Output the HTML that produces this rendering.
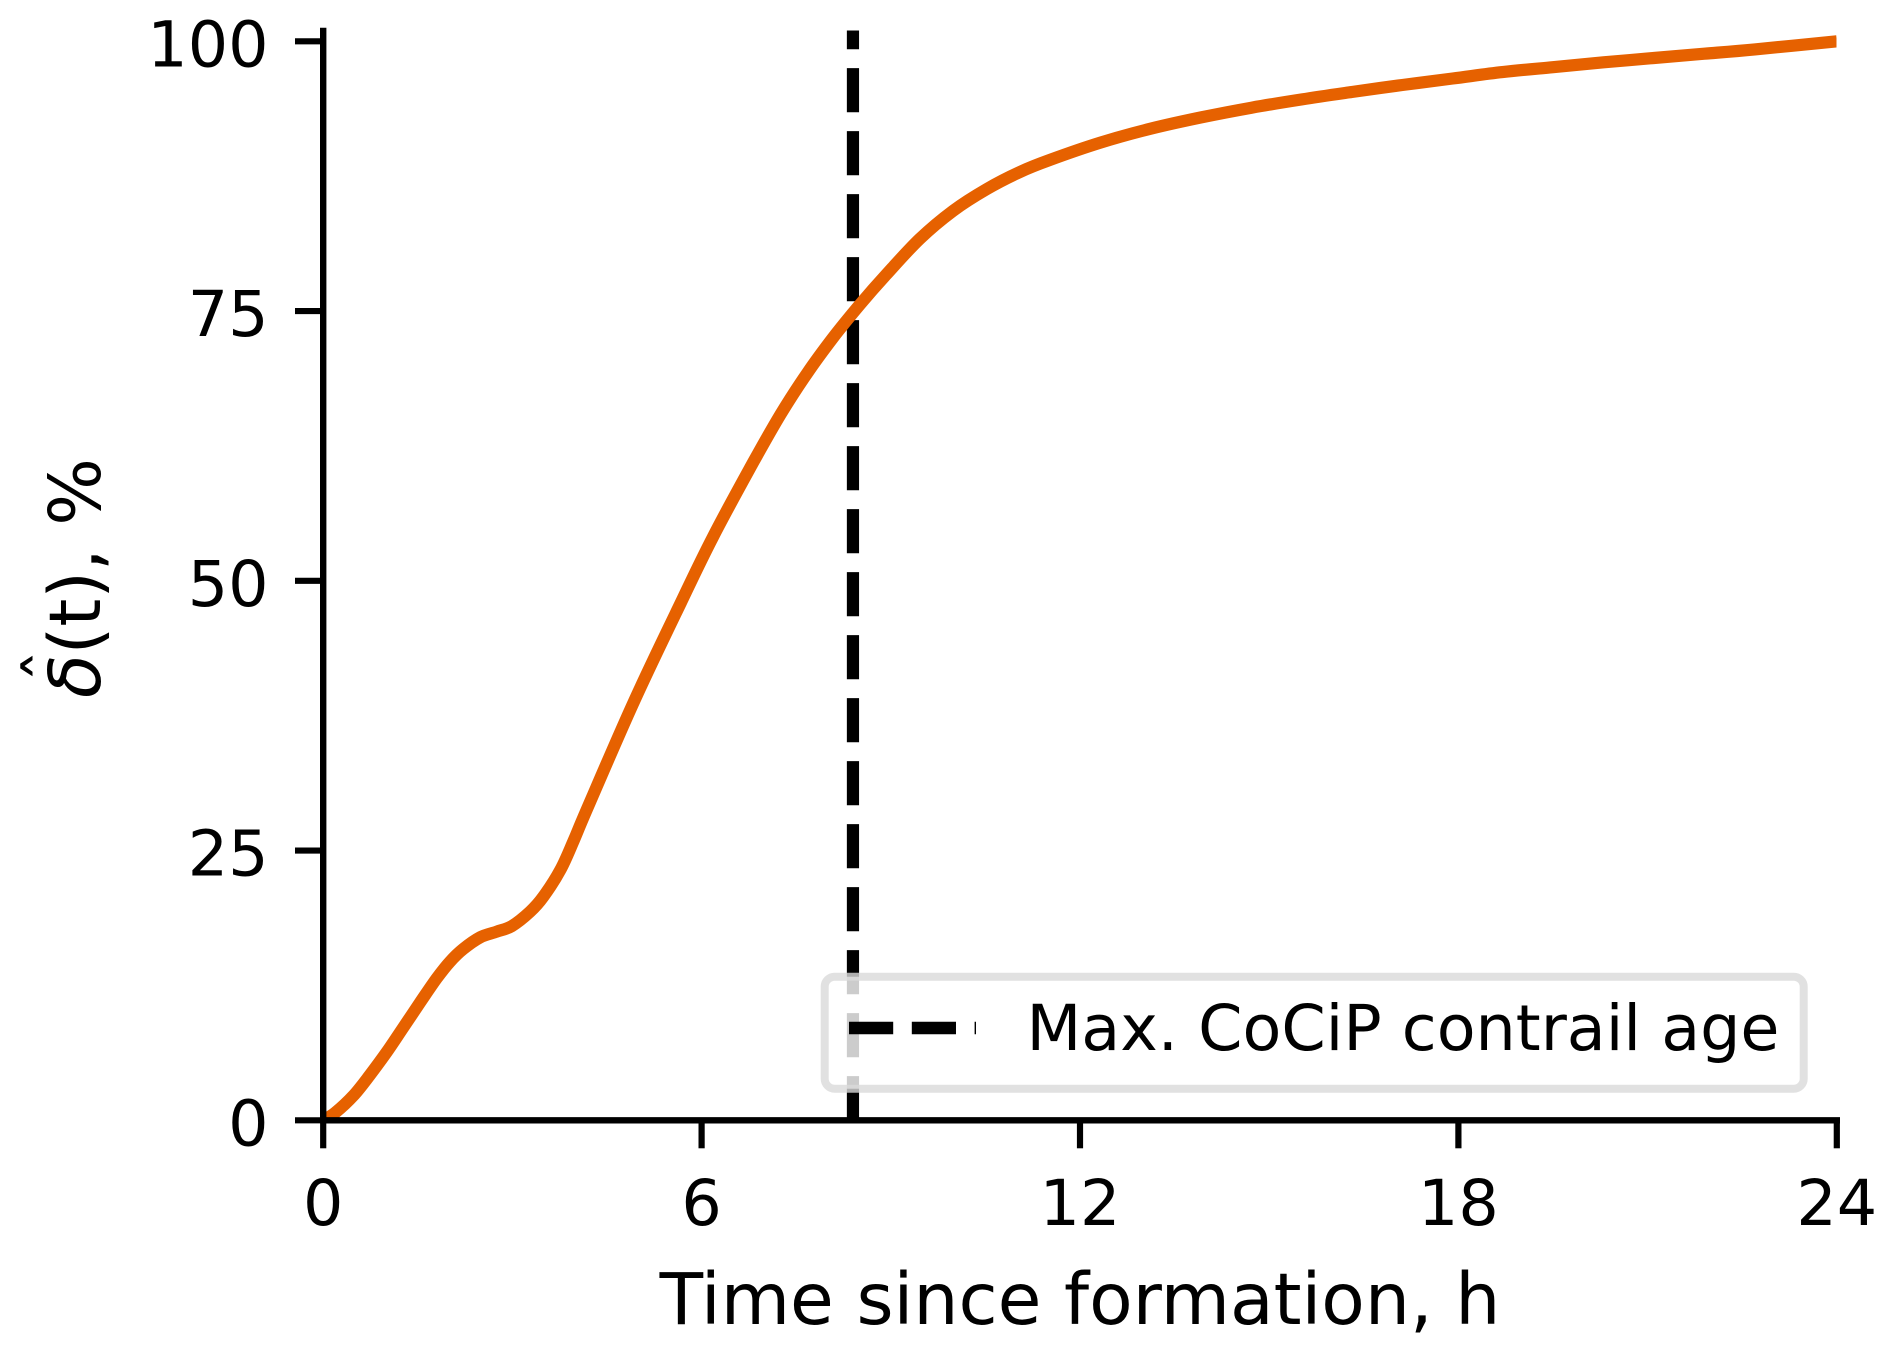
<!DOCTYPE html>
<html lang="en">
<head>
<meta charset="utf-8">
<title>Contrail forcing over time</title>
<style>
html,body{margin:0;padding:0;background:#fff;}
body{width:1892px;height:1351px;overflow:hidden;}
svg{display:block;}
text{font-family:"DejaVu Sans","Liberation Sans",sans-serif;fill:#000;}
.tick{font-size:63.5px;}
.label{font-size:71.2px;}
</style>
</head>
<body>
<svg id="chart" width="1892" height="1351" viewBox="0 0 1892 1351" xmlns="http://www.w3.org/2000/svg">
  <defs><clipPath id="plot-clip"><rect x="323.2" y="0" width="1513.3" height="1120.3"/></clipPath></defs>
  <rect x="0" y="0" width="1892" height="1351" fill="#fff"/>
  <g id="marks"></g>
  <g id="axes"></g>
  <g>
    <rect x="824.7" y="976.7" width="979" height="112" rx="10" ry="10" fill="#fff" fill-opacity="0.8" stroke="#dadada" stroke-opacity="0.8" stroke-width="8"/>
    <line x1="849" y1="1028" x2="976" y2="1028" stroke="#000" stroke-width="12.4" stroke-dasharray="44.2 18.6"/>
    <text class="tick" x="1026.5" y="1050">Max. CoCiP contrail age</text>
  </g>
  <text class="label" x="1080" y="1324" text-anchor="middle">Time since formation, h</text>
  <g>
    <text class="label" transform="translate(100,698) rotate(-90)"><tspan font-style="italic">δ</tspan>(t), %</text>
    <text transform="translate(73,682.5) rotate(-90)" font-size="66">ˆ</text>
  </g>
</svg>
<script>
const timeHours = [0, 0.19, 0.48, 0.74, 1.01, 1.27, 1.54, 1.80, 2.01, 2.22, 2.49, 2.75, 2.99, 3.28, 3.49, 3.76, 3.97, 4.18, 4.92, 5.67, 6.18, 6.82, 7.25, 7.68, 8.08, 8.51, 8.93, 9.46, 9.99, 10.52, 11.05, 11.52, 12.32, 13.12, 13.92, 14.72, 15.52, 16.31, 17.11, 17.91, 18.7, 19.5, 20.3, 21.1, 21.9, 22.7, 24];
const deltaPercent = [0, 0.7, 2.3, 4.2, 6.35, 8.6, 10.95, 13.16, 14.70, 15.88, 16.96, 17.48, 18.0, 19.33, 20.72, 23.2, 25.9, 28.8, 38.71, 47.96, 54.07, 61.0, 65.4, 69.3, 72.5, 75.6, 78.4, 81.7, 84.3, 86.3, 87.9, 89.0, 90.6, 91.9, 92.95, 93.85, 94.62, 95.3, 95.95, 96.55, 97.15, 97.6, 98.05, 98.45, 98.85, 99.25, 100];
const xTickValues = [0, 6, 12, 18, 24];
const xTickLabels = ["0", "6", "12", "18", "24"];
const yTickValues = [0, 25, 50, 75, 100];
const yTickLabels = ["0", "25", "50", "75", "100"];
const maxContrailAgeHours = 8.4;
const verticalLineTop = 101;

const NS = "http://www.w3.org/2000/svg";
const xScale = v => 323.2 + (v / 24) * 1513.6;
const yScale = v => 1120.3 - (v / 100) * 1079;
const marks = document.getElementById("marks");
const axes = document.getElementById("axes");

function make(parent, tag, attrs, content) {
  const el = document.createElementNS(NS, tag);
  for (const k in attrs) el.setAttribute(k, attrs[k]);
  if (content !== undefined) el.textContent = content;
  parent.appendChild(el);
  return el;
}

function smoothPath(px, py) {
  let d = "M" + px[0].toFixed(1) + " " + py[0].toFixed(1);
  for (let i = 0; i < px.length - 1; i++) {
    const a = Math.max(i - 1, 0), c = i + 1, e = Math.min(i + 2, px.length - 1);
    const c1x = px[i] + (px[c] - px[a]) / 6, c1y = py[i] + (py[c] - py[a]) / 6;
    const c2x = px[c] - (px[e] - px[i]) / 6, c2y = py[c] - (py[e] - py[i]) / 6;
    d += "C" + c1x.toFixed(1) + " " + c1y.toFixed(1) + " " + c2x.toFixed(1) + " " + c2y.toFixed(1) + " " + px[c].toFixed(1) + " " + py[c].toFixed(1);
  }
  return d;
}

const ageLine = make(marks, "line", {x1: xScale(maxContrailAgeHours), x2: xScale(maxContrailAgeHours), y1: yScale(0), y2: yScale(verticalLineTop), stroke: "#000", "stroke-width": 12.2, "stroke-dasharray": "44.2 18.8"});



const curve = make(marks, "path", {d: smoothPath(timeHours.map(xScale), deltaPercent.map(yScale)), fill: "none", stroke: "#e66100", "stroke-width": 12.2, "stroke-linejoin": "round", "clip-path": "url(#plot-clip)"});



const ySpine = make(axes, "line", {x1: xScale(0), x2: xScale(0), y1: 1123.3, y2: 27.7, stroke: "#000", "stroke-width": 6.4});



const xSpine = make(axes, "line", {x1: 320, x2: 1840, y1: yScale(0), y2: yScale(0), stroke: "#000", "stroke-width": 6.4});



xTickValues.forEach((v, i) => {
  const tick = make(axes, "line", {x1: xScale(v), x2: xScale(v), y1: yScale(0), y2: 1148.3, stroke: "#000", "stroke-width": 6.2});
  
  
  const label = make(axes, "text", {class: "tick", x: xScale(v), y: 1225, "text-anchor": "middle"}, xTickLabels[i]);
  
  
});

yTickValues.forEach((v, i) => {
  const tick = make(axes, "line", {x1: 295, x2: xScale(0), y1: yScale(v), y2: yScale(v), stroke: "#000", "stroke-width": 6.2});
  
  
  const label = make(axes, "text", {class: "tick", x: 268.5, y: yScale(v) + 25, "text-anchor": "end"}, yTickLabels[i]);
  
  
});
</script>
</body>
</html>
